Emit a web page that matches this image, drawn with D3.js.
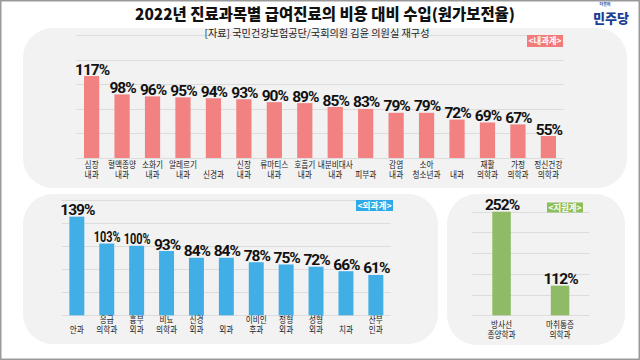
<!DOCTYPE html>
<html><head><meta charset="utf-8">
<script src="https://cdn.jsdelivr.net/npm/d3@7"></script>
<style>html,body{margin:0;padding:0;background:#fff;}svg{display:block;}</style>
</head><body>
<script>
// ---- data ----
const innerCats = ["심장\n내과","혈액종양\n내과","소화기\n내과","알레르기\n내과","신경과","신장\n내과","류마티스\n내과","호흡기\n내과","내분비대사\n내과","피부과","감염\n내과","소아\n청소년과","내과","재활\n의학과","가정\n의학과","정신건강\n의학과"];
const innerVals = [117,98,96,95,94,93,90,89,85,83,79,79,72,69,67,55];
const surgCats = ["안과","응급\n의학과","흉부\n외과","비뇨\n의학과","신경\n외과","외과","이비인\n후과","정형\n외과","성형\n외과","치과","산부\n인과"];
const surgVals = [139,103,100,93,84,84,78,75,72,66,61];
const supCats = ["방사선\n종양학과","마취통증\n의학과"];
const supVals = [252,112];
const titleText = "2022년 진료과목별 급여진료의 비용 대비 수입(원가보전율)";
const sourceText = "[자료] 국민건강보험공단/국회의원 김윤 의원실 재구성";
const groupNames = ["<내과계>","<외과계>","<지원계>"];

const W=640,H=360;
const svg=d3.select("body").append("svg").attr("width",W).attr("height",H);
const KR='"Noto Sans CJK KR","Noto Sans",sans-serif';

svg.append("rect").attr("width",W).attr("height",H).attr("fill","#fff");

// panels
const panels=[{x:23,y:28,w:604,h:160},{x:23,y:194,w:415,h:150},{x:447,y:194,w:178,h:151}];
panels.forEach(p=>svg.append("rect").attr("x",p.x).attr("y",p.y).attr("width",p.w).attr("height",p.h).attr("rx",30).attr("fill","#f2f2f2"));

// title
svg.append("text").attr("x",325).attr("y",19.5).attr("text-anchor","middle")
 .attr("font-family",KR).attr("font-weight",900).attr("font-size",15.5).attr("fill","#111")
 .attr("textLength",380).attr("lengthAdjust","spacingAndGlyphs").text(titleText);
// logo
svg.append("text").attr("x",605).attr("y",6).attr("text-anchor","middle").attr("font-family",KR).attr("font-size",4).attr("font-weight",700).attr("fill","#1b3f95").text("더불어");
svg.append("text").attr("x",611).attr("y",22.5).attr("text-anchor","middle").attr("font-family",KR).attr("font-weight",900).attr("font-size",13).attr("fill","#1b3f95")
 .attr("textLength",36).attr("lengthAdjust","spacingAndGlyphs").text("민주당");

function chart(cats,vals,opt){
  const x=d3.scaleBand().domain(cats).range([opt.x0,opt.x1]).paddingInner(opt.pi).paddingOuter(opt.pi/2);
  const y=d3.scaleLinear().domain(opt.dom).range([opt.base,opt.top]);
  const g=svg.append("g");
  const grid=d3.range(6).map(i=>opt.dom[0]+i*(opt.dom[1]-opt.dom[0])/5);
  g.selectAll("line.grid").data(grid).join("line")
    .attr("x1",opt.x0).attr("x2",opt.x1).attr("y1",d=>Math.round(y(d))+0.5).attr("y2",d=>Math.round(y(d))+0.5)
    .attr("stroke","#dcdcdc").attr("stroke-width",1);
  g.selectAll("rect.bar").data(vals).join("rect")
    .attr("x",(d,i)=>x(cats[i])).attr("width",x.bandwidth())
    .attr("y",d=>y(d)).attr("height",d=>opt.base-y(d)).attr("fill",opt.color);
  const vt=g.selectAll("text.val").data(vals).join("text")
    .attr("x",(d,i)=>x(cats[i])+x.bandwidth()/2+0.5).attr("y",d=>y(d)-1.5)
    .attr("text-anchor","middle").attr("font-family","Roboto,sans-serif").attr("font-weight",700)
    .attr("font-size",15.5).attr("letter-spacing",-1).attr("fill","#111").text(d=>d+"%");
  const nodes=vt.nodes();
  const widths=nodes.map(n=>n.getComputedTextLength());
  const lim=widths.slice();
  for(let i=0;i<vals.length-1;i++){
    if(Math.abs(y(vals[i])-y(vals[i+1]))<12 && (lim[i]+lim[i+1])/2>x.step()-2){
      const m=x.step()-3; lim[i]=Math.min(lim[i],m); lim[i+1]=Math.min(lim[i+1],m);
    }
  }
  nodes.forEach((n,i)=>{ if(lim[i]<widths[i]) d3.select(n).attr("letter-spacing",0).attr("textLength",lim[i]).attr("lengthAdjust","spacingAndGlyphs"); });
  cats.forEach((c,i)=>{
    const lines=c.split("\n");
    const cx=x(c)+x.bandwidth()/2;
    const t=g.append("text").attr("transform",`translate(${cx},${opt.lab}) scale(0.85,1)`)
       .attr("text-anchor","middle").attr("font-family",KR).attr("font-size",9).attr("fill","#222");
    lines.forEach((ln,j)=>{
      const row = lines.length===1 ? 1 : j;
      t.append("tspan").attr("x",0).attr("y",row*9.2).text(ln);
    });
  });
}

chart(innerCats,innerVals,{x0:76.4,x1:563.6,pi:0.5,dom:[32.3,159.4],base:158,top:35,color:"#f28282",lab:168.3});
chart(surgCats,surgVals,{x0:61.9,x1:390.8,pi:0.5,dom:[7,161.3],base:315.3,top:200,color:"#41aee6",lab:323.3});
chart(supCats,supVals,{x0:472.3,x1:589.3,pi:0.684,dom:[56,252],base:315.3,top:211.7,color:"#8fbb66",lab:328.3});

// source
svg.append("text").attr("x",317).attr("y",37).attr("text-anchor","middle")
 .attr("font-family",KR).attr("font-size",10).attr("fill","#222")
 .attr("textLength",225).attr("lengthAdjust","spacingAndGlyphs").text(sourceText);

// group tags
const tags=[{x:527,y:35,w:36,h:12,c:"#f37b7b"},{x:356,y:200,w:37,h:11,c:"#2eaae8"},{x:547,y:202.5,w:36,h:10,c:"#8cbf5a"}];
tags.forEach((t,i)=>{
  svg.append("rect").attr("x",t.x).attr("y",t.y).attr("width",t.w).attr("height",t.h).attr("fill",t.c);
  svg.append("text").attr("x",t.x+t.w/2).attr("y",t.y+t.h/2+3.2).attr("text-anchor","middle")
   .attr("font-family",KR).attr("font-weight",700).attr("font-size",9).attr("fill","#fff")
   .attr("textLength",t.w-3).attr("lengthAdjust","spacingAndGlyphs").text(groupNames[i]);
});

// frame
svg.append("rect").attr("x",0.75).attr("y",0.75).attr("width",W-1.5).attr("height",H-1.5).attr("fill","none").attr("stroke","#9a9a9a").attr("stroke-width",1.5);
</script>
</body></html>
